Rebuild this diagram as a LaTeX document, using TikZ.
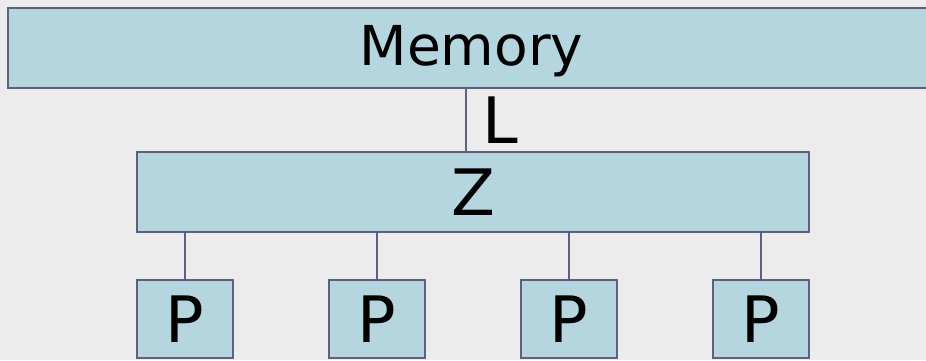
\documentclass[tikz,border=0pt]{standalone}
\usepackage{fontspec}
\setmainfont{DejaVu Sans}
\usetikzlibrary{positioning}
\definecolor{boxfill}{RGB}{181,213,223}
\definecolor{boxline}{RGB}{95,96,128}
\definecolor{paper}{RGB}{236,236,236}

\begin{document}
\begin{tikzpicture}[x=1pt,y=-1pt,
  unit/.style={rectangle,draw=boxline,fill=boxfill,line width=1.5pt,inner sep=0pt,font=\fontsize{64}{70}\selectfont},
  proc/.style={unit,minimum width=96pt,minimum height=78pt},
  wire/.style={draw=boxline,line width=1.5pt}
]
\fill[paper] (0,0) rectangle (926,360);
\useasboundingbox (0,0) rectangle (926,360);
\node[unit,minimum width=927pt,minimum height=80pt,text depth=6pt,line width=2pt,font=\fontsize{55}{60}\selectfont] (mem) at (471.5,48) {Memory};
\node[unit,minimum width=672pt,minimum height=80pt] (z) at (473,192) {Z};
\node[proc] (p1) at (185,319) {P};
\node[proc,right=94.5pt of p1] (p2) {P};
\node[proc,right=94.5pt of p2] (p3) {P};
\node[proc,right=94.5pt of p3] (p4) {P};
\coordinate (tap) at (466,0);
\draw[wire] (mem.south -| tap) -- node[right=16pt,inner sep=0pt,font=\fontsize{64}{70}\selectfont] (lbl) {L} (z.north -| tap);
\foreach \p in {p1,p2,p3,p4}
  \draw[wire] (z.south -| \p.north) -- (\p.north);
\end{tikzpicture}
\end{document}
